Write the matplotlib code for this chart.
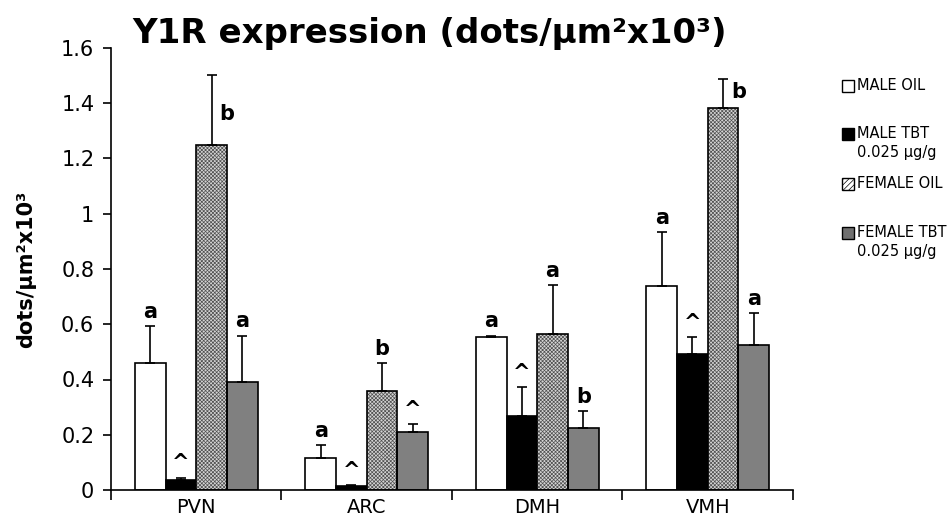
import matplotlib
matplotlib.use("Agg")
import matplotlib.pyplot as plt
import numpy as np
from matplotlib.patches import Rectangle
from matplotlib.ticker import FuncFormatter

regions = ["PVN", "ARC", "DMH", "VMH"]
series_names = ["MALE OIL", "MALE TBT\n0.025 µg/g", "FEMALE OIL", "FEMALE TBT\n0.025 µg/g"]

male_oil = [0.459, 0.117, 0.554, 0.738]
male_oil_err = [0.135, 0.046, 0.005, 0.195]
male_tbt = [0.036, 0.015, 0.267, 0.494]
male_tbt_err = [0.009, 0.004, 0.105, 0.059]
female_oil = [1.249, 0.360, 0.565, 1.384]
female_oil_err = [0.253, 0.099, 0.177, 0.104]
female_tbt = [0.390, 0.211, 0.224, 0.525]
female_tbt_err = [0.169, 0.027, 0.062, 0.115]

male_oil_lbl = ["a", "a", "a", "a"]
male_tbt_lbl = ["^", "^", "^", "^"]
female_oil_lbl = ["b", "b", "a", "b"]
female_tbt_lbl = ["a", "^", "b", "a"]

values = [male_oil, male_tbt, female_oil, female_tbt]
errors = [male_oil_err, male_tbt_err, female_oil_err, female_tbt_err]
labels = [male_oil_lbl, male_tbt_lbl, female_oil_lbl, female_tbt_lbl]

plt.rcParams['hatch.linewidth'] = 0.5
faces = ["white", "black", "#d4d4d4", "#808080"]
hatches = [None, None, "x" * 9, None]

fig = plt.figure(figsize=(9.53, 5.31), dpi=100)
ax = fig.add_axes([111 / 953, 1 - 490 / 531, (793 - 111) / 953, (490 - 48) / 531])

x = np.arange(len(regions))
width = 0.18
offsets = (np.arange(4) - 1.5) * width

for i in range(4):
    xs = x + offsets[i]
    if hatches[i]:
        ax.bar(xs, values[i], width, color=faces[i], hatch=hatches[i],
               edgecolor="#505050", linewidth=0, zorder=2)
        ax.bar(xs, values[i], width, fill=False, edgecolor="black", linewidth=1.2, zorder=2.5)
    else:
        ax.bar(xs, values[i], width, color=faces[i], edgecolor="black", linewidth=1.2, zorder=2)
    ax.errorbar(xs, values[i], yerr=[np.zeros(4), errors[i]], fmt="none",
                ecolor="black", elinewidth=1.2, capsize=3.6, capthick=1.2, zorder=3)
    for j in range(4):
        top = values[i][j] + errors[i][j]
        lbl = labels[i][j]
        if i == 2 and j == 0:
            ax.text(xs[j] + width / 2, 1.36, lbl, ha="center", va="center",
                    fontsize=15, fontweight="bold")
        elif i == 2 and j == 3:
            ax.text(xs[j] + width / 2, 1.44, lbl, ha="center", va="center",
                    fontsize=15, fontweight="bold")
        else:
            ax.annotate(lbl, (xs[j], top), xytext=(0, 3), textcoords="offset points",
                        ha="center", va="bottom", fontsize=15, fontweight="bold")

ax.set_xlim(-0.5, 3.5)
ax.set_ylim(0, 1.6)
ax.set_yticks(np.arange(0, 1.61, 0.2))
ax.yaxis.set_major_formatter(FuncFormatter(lambda v, p: "%g" % round(v, 1)))
ax.set_xticks(x)
ax.set_xticklabels(regions)
ax.set_xticks(np.arange(-0.5, 3.6, 1.0), minor=True)
ax.tick_params(axis="x", which="major", length=0, labelsize=14, pad=6)
ax.tick_params(axis="x", which="minor", length=7, width=1.2, direction="out")
ax.tick_params(axis="y", length=6, width=1.2, direction="out", labelsize=15, pad=6)
for s in ["top", "right"]:
    ax.spines[s].set_visible(False)
for s in ["left", "bottom"]:
    ax.spines[s].set_linewidth(1.2)

ax.set_ylabel("dots/µm²x10³", fontsize=15, fontweight="bold", labelpad=18)

fig.text(430 / 953, 1 - 33 / 531, "Y1R expression (dots/µm²x10³)", ha="center", va="center",
         fontsize=24.5, fontweight="bold")

# legend (drawn manually to mimic layout)
leg_y = [86, 134, 184, 233]
leg_hatch = [None, None, "/" * 6, None]
leg_face = ["white", "black", "white", "#707070"]
for k in range(4):
    yy = 1 - leg_y[k] / 531
    fig.patches.append(Rectangle((842 / 953, yy - 6 / 531), 12 / 953, 12 / 531,
                                 transform=fig.transFigure, facecolor=leg_face[k],
                                 hatch=leg_hatch[k], edgecolor="black", linewidth=1.0))
    fig.text(857 / 953, yy + 8 / 531, series_names[k], ha="left", va="top",
             fontsize=10.5, linespacing=1.35)

fig.savefig("out.png", dpi=100)
